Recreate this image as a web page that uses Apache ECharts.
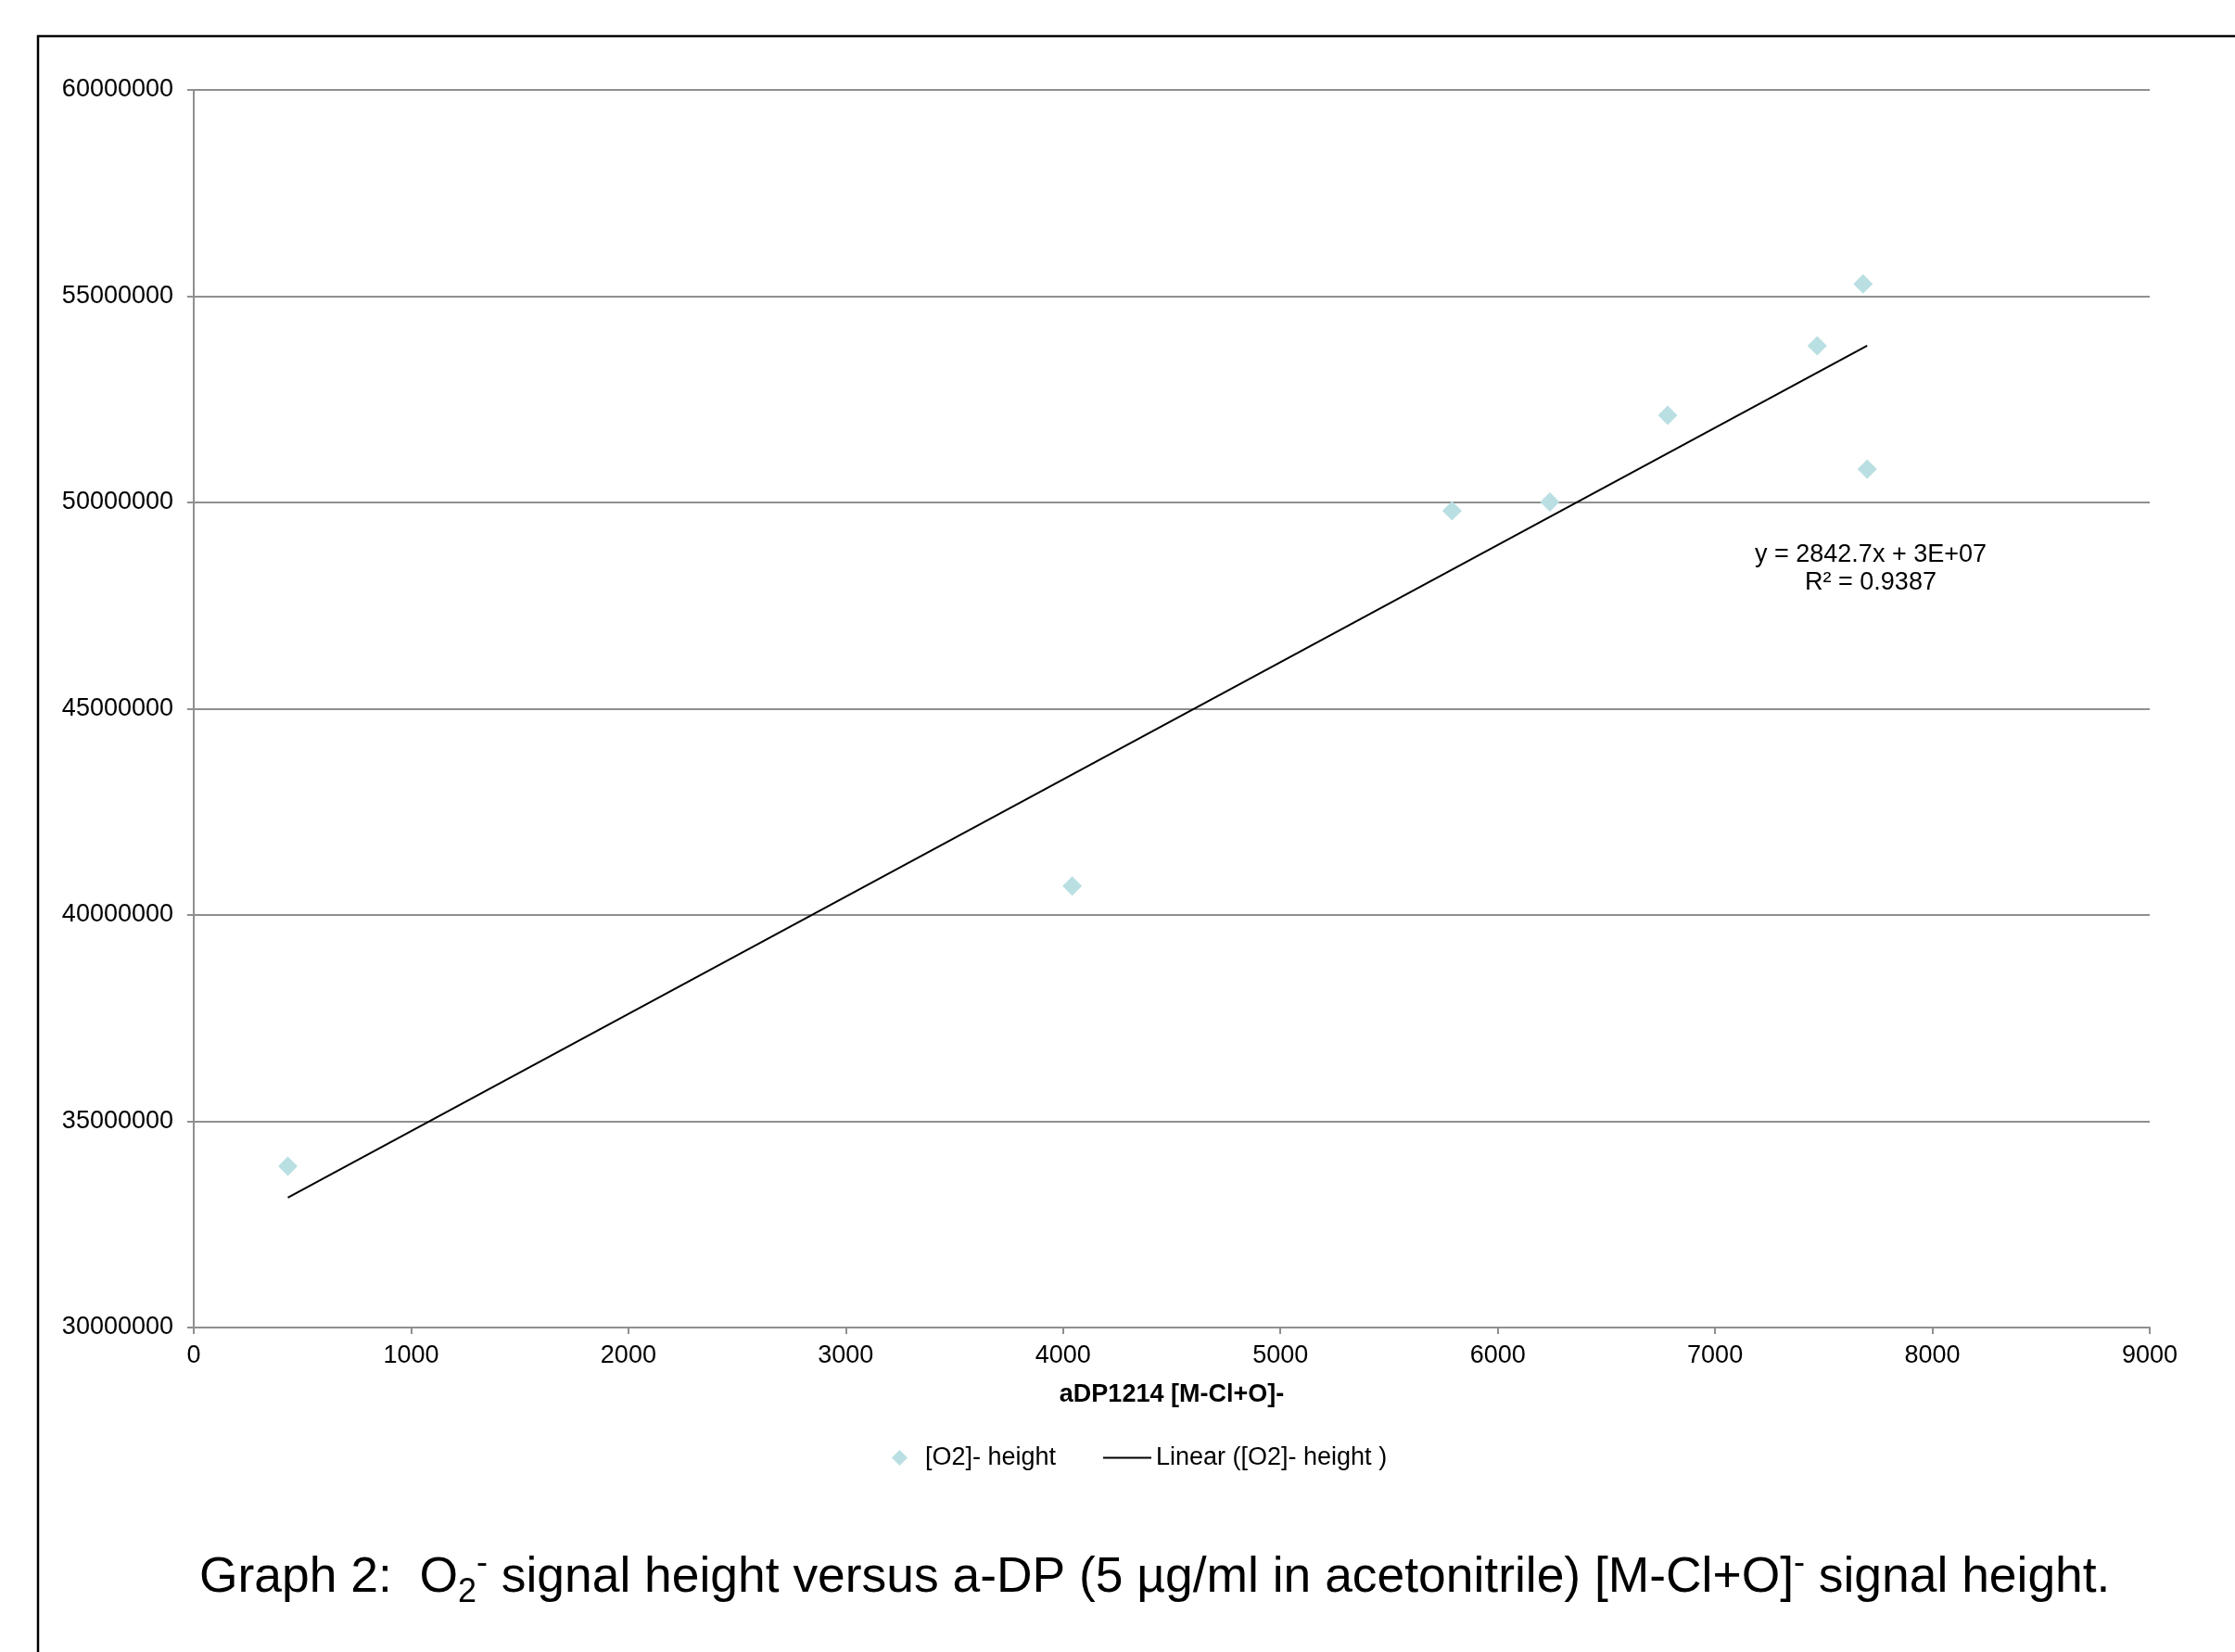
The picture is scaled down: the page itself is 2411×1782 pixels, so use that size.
<!DOCTYPE html>
<html>
<head>
<meta charset="utf-8">
<script src="https://cdn.jsdelivr.net/npm/echarts@6/dist/echarts.min.js"></script>
<style>
html,body{margin:0;padding:0;background:#fff;}
#chart{width:2411px;height:1782px;}
</style>
</head>
<body>
<div id="chart"></div>
<script>
// ---- data ----
const pointX = [433, 4042, 5790, 6240, 6782, 7470, 7681, 7700];
const pointY = [33910000, 40700000, 49800000, 50010000, 52110000, 53800000, 55300000, 50810000];
const trendX = [433, 7700];
const trendY = [33150000, 53800000];
const xRange = [0, 9000, 1000];
const yRange = [30000000, 60000000, 5000000];
const seriesNames = ['[O2]- height', 'Linear ([O2]- height )'];
const xAxisName = 'aDP1214 [M-Cl+O]-';
const equationLines = ['y = 2842.7x + 3E+07', 'R\u00B2 = 0.9387'];

const FONT = '"Liberation Sans", Arial, sans-serif';
const FS = 27;
const chart = echarts.init(document.getElementById('chart'), null, {renderer: 'canvas'});

const scatterData = pointX.map((x, i) => [x, pointY[i]]);
const trendData = trendX.map((x, i) => [x, trendY[i]]);

const gridColor = '#8f8f8f';
const plain = v => String(v);

chart.setOption({
  backgroundColor: '#ffffff',
  animation: false,
  textStyle: {fontFamily: FONT},
  grid: {left: 209, top: 97, right: 92, bottom: 350, containLabel: false},
  xAxis: {
    type: 'value', min: xRange[0], max: xRange[1], interval: xRange[2],
    name: xAxisName, nameLocation: 'middle', nameGap: 59,
    nameTextStyle: {fontFamily: FONT, fontSize: FS, fontWeight: 'bold', color: '#000'},
    axisLine: {show: true, lineStyle: {color: gridColor, width: 2}},
    axisTick: {show: true, inside: false, length: 7, lineStyle: {color: gridColor, width: 2}},
    axisLabel: {fontFamily: FONT, fontSize: FS, color: '#000', margin: 17, formatter: plain},
    splitLine: {show: false}
  },
  yAxis: {
    type: 'value', min: yRange[0], max: yRange[1], interval: yRange[2],
    axisLine: {show: true, onZero: false, lineStyle: {color: gridColor, width: 2}},
    axisTick: {show: true, inside: false, length: 7, lineStyle: {color: gridColor, width: 2}},
    axisLabel: {fontFamily: FONT, fontSize: FS, color: '#000', margin: 22, formatter: plain},
    splitLine: {show: true, lineStyle: {color: gridColor, width: 2}}
  },
  legend: [
    {
      data: [seriesNames[0]], left: 962, top: 1559, padding: 0, selectedMode: false,
      icon: 'diamond', itemWidth: 17, itemHeight: 17,
      textStyle: {fontFamily: FONT, fontSize: FS, color: '#000', padding: [0, 0, 0, 14]}
    },
    {
      data: [seriesNames[1]], left: 1190, top: 1559, padding: 0, selectedMode: false,
      icon: 'rect', itemWidth: 52, itemHeight: 2,
      textStyle: {fontFamily: FONT, fontSize: FS, color: '#000'}
    }
  ],
  series: [
    {
      name: seriesNames[1], type: 'line', data: trendData,
      symbol: 'none', color: '#000',
      lineStyle: {color: '#000', width: 2}, z: 2
    },
    {
      name: seriesNames[0], type: 'scatter', data: scatterData,
      symbol: 'diamond', symbolSize: 21,
      itemStyle: {color: '#b9dfe2', opacity: 1}, z: 3
    }
  ],
  graphic: [
    {
      type: 'rect', silent: true, z: 0,
      shape: {x: 41, y: 39, width: 2600, height: 2000},
      style: {fill: 'none', stroke: '#000', lineWidth: 2.5}
    },
    {
      type: 'text', x: 2018, y: 614, silent: true,
      style: {
        text: equationLines.join('\n'), fontFamily: FONT, fontSize: FS, lineHeight: 30,
        fill: '#000', align: 'center', verticalAlign: 'middle'
      }
    },
    {
      type: 'text', x: 215, y: 1702, silent: true,
      style: {
        text: 'Graph 2:  O{sub|2}{sup|-} signal height versus a-DP (5 \u00B5g/ml in acetonitrile) [M-Cl+O]{sup|-} signal height.',
        fontFamily: FONT, fontSize: 53.4, fill: '#000', align: 'left', verticalAlign: 'middle',
        rich: {
          sub: {fontFamily: FONT, fontSize: 36, fill: '#000', padding: [32, 0, 0, 0]},
          sup: {fontFamily: FONT, fontSize: 36, fill: '#000', padding: [0, 0, 30, 0]}
        }
      }
    }
  ]
});
</script>
</body>
</html>
